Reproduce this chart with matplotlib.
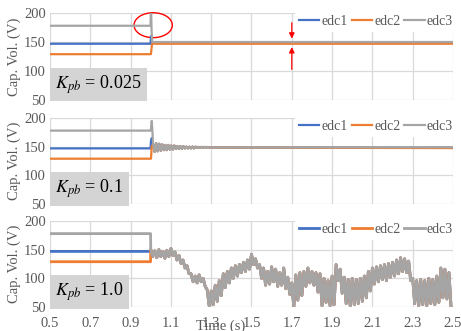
import numpy as np
import matplotlib.pyplot as plt
from matplotlib.patches import Ellipse

plt.rcParams['font.family'] = ['Liberation Serif', 'DejaVu Serif']
plt.rcParams['mathtext.fontset'] = 'stix'

TXT = '#595959'
C1, C2, C3 = '#4472c4', '#ed7d31', '#a5a5a5'

# steady values before the switch at t = 1.0 s
pre_t = [0.5, 0.999]
pre_edc1 = [147, 147]
pre_edc2 = [129, 129]
pre_edc3 = [178, 178]

# Kpb = 0.025 : fast settling
t_a = [1.001, 1.004, 1.007, 2.5]
edc1_a = [160, 152, 148.5, 148.5]
edc2_a = [129, 140, 147, 147]
edc3_a = [215, 170, 150, 150]

# Kpb = 0.1 : spike then damped ripple (peak / trough pairs every 15 ms)
t_b = [1.001, 1.005]
edc3_b = [180, 195]
edc1_b = [160, 165]
edc2_b = [129, 150]
ripple_t0_b = 1.012
ripple_hi_b = [154, 156, 155, 154, 153, 153, 152, 152, 151, 151,
               151, 150, 150, 150, 150, 149.5, 149.5, 149.5, 149.5, 149]
ripple_lo_b = [141, 142, 143, 144, 144, 145, 145, 146, 146, 146,
               147, 147, 147, 147, 148, 148, 148, 148, 148.5, 148.5]
settle_b = {'edc1': 148.5, 'edc2': 147.5, 'edc3': 149}

# Kpb = 1.0 : unstable, peak / trough pairs every 20 ms from 1.00 s
osc_t0_c = 1.0
osc_hi_c = [150, 148, 150, 147, 149, 152, 146, 140, 132, 122,
            108, 104, 106, 100, 80, 78, 88, 96, 108, 112,
            118, 122, 124, 128, 132, 142, 134, 124, 118, 112,
            120, 116, 110, 118, 102, 92, 106, 110, 112, 118,
            112, 110, 108, 100, 96, 104, 124, 116, 102, 98,
            100, 98, 100, 104, 112, 118, 120, 122, 124, 126,
            128, 132, 136, 134, 130, 100, 96, 98, 96, 100,
            98, 104, 118, 116, 110]
osc_lo_c = [138, 136, 138, 135, 138, 140, 132, 126, 118, 108,
            94, 92, 94, 86, 52, 54, 60, 70, 84, 92,
            100, 104, 110, 112, 116, 124, 118, 100, 88, 90,
            94, 86, 88, 82, 72, 50, 62, 70, 86, 92,
            88, 76, 52, 58, 52, 54, 96, 74, 56, 52,
            54, 56, 60, 66, 78, 90, 94, 98, 96, 102,
            104, 108, 112, 110, 96, 56, 52, 54, 52, 56,
            54, 58, 66, 64, 52]

x_ticks = [0.5, 0.7, 0.9, 1.1, 1.3, 1.5, 1.7, 1.9, 2.1, 2.3, 2.5]
y_ticks = [50, 100, 150, 200]
kpb_labels = ['0.025', '0.1', '1.0']


def zigzag(t0, step, hi, lo):
    t, v = [], []
    for i, (h, l) in enumerate(zip(hi, lo)):
        t += [t0 + i * step, t0 + i * step + step / 2]
        v += [h, l]
    return t, v


fig = plt.figure(figsize=(4.61, 3.31), dpi=100)
boxes = [(0.6979, 0.9607), (0.3837, 0.6435), (0.0725, 0.3323)]
axes = []
for lo, hi in boxes:
    axes.append(fig.add_axes([0.1085, lo, 0.9826 - 0.1085, hi - lo]))

series = []
# panel a
series.append({
    'edc1': (pre_t + t_a, pre_edc1 + edc1_a),
    'edc2': (pre_t + t_a, pre_edc2 + edc2_a),
    'edc3': (pre_t + t_a, pre_edc3 + edc3_a),
})
# panel b
rt, rv = zigzag(ripple_t0_b, 0.015, ripple_hi_b, ripple_lo_b)
pan = {}
for name, pre, spk in [('edc1', pre_edc1, edc1_b), ('edc2', pre_edc2, edc2_b),
                       ('edc3', pre_edc3, edc3_b)]:
    pan[name] = (pre_t + t_b + rt + [2.5],
                 pre + spk + rv + [settle_b[name]])
series.append(pan)
# panel c
ot, ov = zigzag(osc_t0_c, 0.02, osc_hi_c, osc_lo_c)
series.append({
    'edc1': (pre_t + ot, pre_edc1 + ov),
    'edc2': (pre_t + ot, pre_edc2 + ov),
    'edc3': (pre_t + ot, pre_edc3 + ov),
})

for i, ax in enumerate(axes):
    s = series[i]
    lw = 2.0 if i == 2 else 1.6
    ax.plot(*s['edc1'], color=C1, lw=lw, label='edc1')
    ax.plot(*s['edc2'], color=C2, lw=lw, label='edc2')
    ax.plot(*s['edc3'], color=C3, lw=lw, label='edc3')
    ax.set_xlim(0.5, 2.5)
    ax.set_ylim(50, 200)
    ax.set_xticks(x_ticks)
    ax.set_yticks(y_ticks)
    ax.grid(True, color='#d9d9d9', lw=0.9)
    ax.set_axisbelow(True)
    for sp in ax.spines.values():
        sp.set_visible(False)
    ax.tick_params(length=0, labelsize=10.5, colors=TXT, pad=3)
    if i < 2:
        ax.tick_params(labelbottom=False)
    ax.set_ylabel('Cap. Vol. (V)', fontsize=10.5, color=TXT, labelpad=2)
    leg = ax.legend(ncol=3, loc='center right', bbox_to_anchor=(1.01, 0.9),
                    fontsize=10, frameon=True, framealpha=1, edgecolor='none',
                    handlelength=1.45, handletextpad=0.15, columnspacing=0.3,
                    borderpad=0.3, borderaxespad=0)
    for tx in leg.get_texts():
        tx.set_color(TXT)
    ax.text(0.013, 0.045, r'$K_{pb}$ = ' + kpb_labels[i], transform=ax.transAxes,
            fontsize=13, ha='left', va='bottom', color='black',
            bbox=dict(boxstyle='square,pad=0.3', fc='#d4d4d4', ec='none'))

axes[2].tick_params(axis='x', pad=7)

# highlight of the transient and the converged voltages
ax = axes[0]
ax.add_patch(Ellipse((1.012, 179), 0.19, 43, fill=False, ec='red', lw=1,
                     clip_on=False))
ax.annotate('', xy=(1.7, 151), xytext=(1.7, 188),
            arrowprops=dict(arrowstyle='-|>', color='red', lw=0.9,
                            mutation_scale=8))
ax.annotate('', xy=(1.7, 146), xytext=(1.7, 98),
            arrowprops=dict(arrowstyle='-|>', color='red', lw=0.9,
                            mutation_scale=8))

fig.text(221 / 461, 1 - 326 / 331, 'Time (s)', fontsize=10.5, color=TXT,
         ha='center', va='center')

fig.savefig('out.png', dpi=100)
